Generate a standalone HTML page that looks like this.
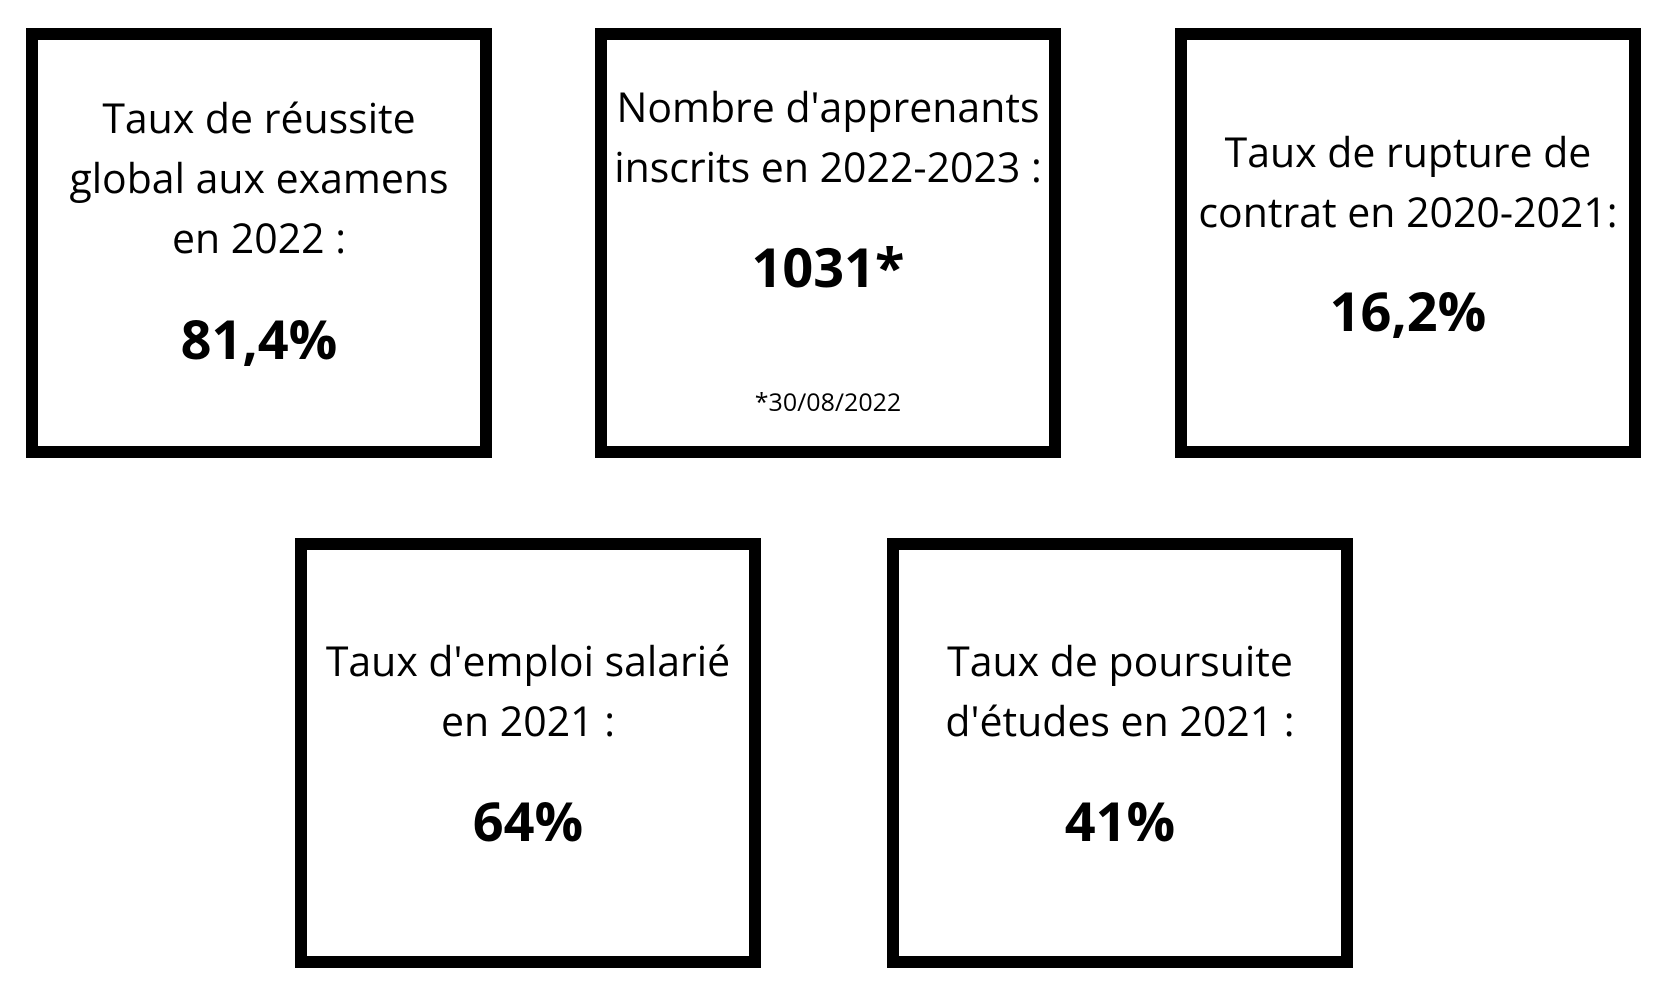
<!DOCTYPE html>
<html><head><meta charset="utf-8"><style>
html,body{margin:0;padding:0;background:#fff;}
body{width:1665px;height:1006px;position:relative;overflow:hidden;font-family:"Open Sans","Liberation Sans","DejaVu Sans",sans-serif;color:#000;}
.box{position:absolute;box-sizing:border-box;border:12px solid #000;width:466px;height:430px;background:#fff;}
.t{position:absolute;left:0;width:100%;text-align:center;white-space:nowrap;transform:translateY(-50%);}
.l{font-size:41px;line-height:60px;}
.v{font-size:54px;font-weight:bold;}
.f{font-size:25px;}
</style></head><body>
<div class="box" style="left:26px;top:28px;">
  <div class="t l" style="top:138px;">Taux de réussite<br>global aux examens<br>en 2022 :</div>
  <div class="t v" style="top:298px;">81,4%</div>
</div>
<div class="box" style="left:595px;top:28px;">
  <div class="t l" style="top:97px;">Nombre d'apprenants<br>inscrits en 2022-2023 :</div>
  <div class="t v" style="top:226px;">1031*</div>
  <div class="t f" style="top:362px;">*30/08/2022</div>
</div>
<div class="box" style="left:1175px;top:28px;">
  <div class="t l" style="top:142px;">Taux de rupture de<br>contrat en 2020-2021:</div>
  <div class="t v" style="top:270px;">16,2%</div>
</div>
<div class="box" style="left:295px;top:538px;">
  <div class="t l" style="top:141px;">Taux d'emploi salarié<br>en 2021 :</div>
  <div class="t v" style="top:270px;">64%</div>
</div>
<div class="box" style="left:887px;top:538px;">
  <div class="t l" style="top:141px;">Taux de poursuite<br>d'études en 2021 :</div>
  <div class="t v" style="top:270px;">41%</div>
</div>
</body></html>
